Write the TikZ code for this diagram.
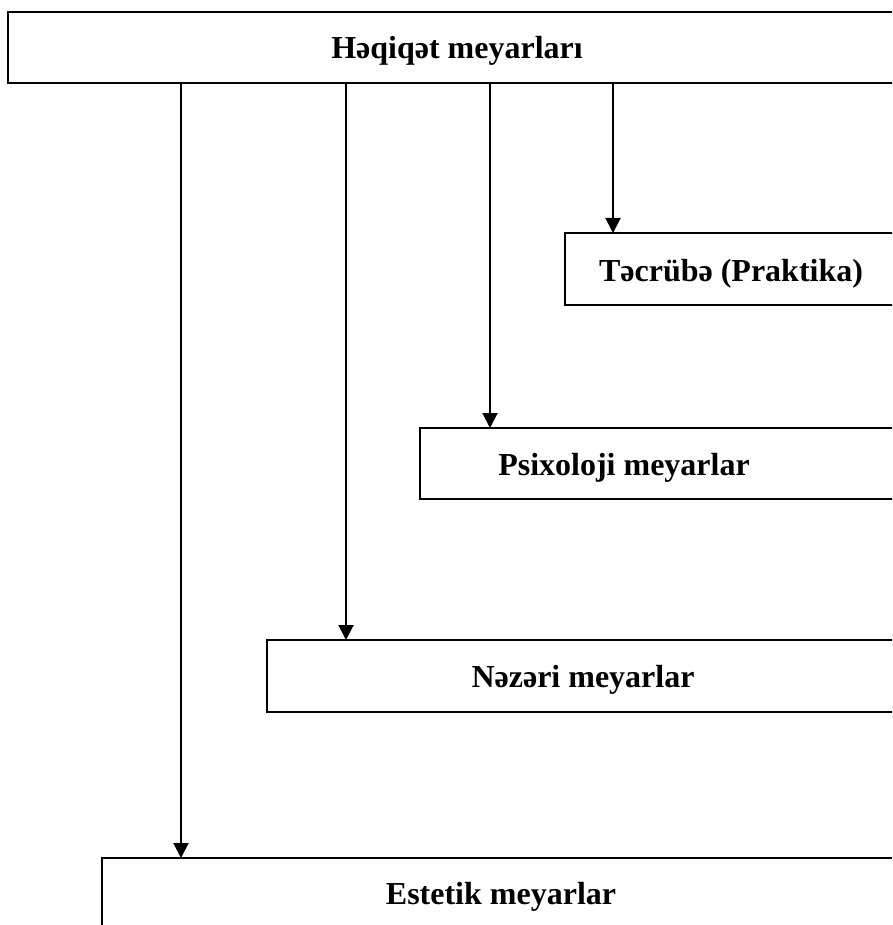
\documentclass[tikz,border=0pt]{standalone}
\usepackage{fontspec}
\setmainfont{Liberation Serif}
\usetikzlibrary{arrows.meta}
\begin{document}
\begin{tikzpicture}[x=1pt,y=-1pt,
  box/.style={draw, line width=2pt, inner sep=0pt, outer sep=0pt, anchor=north west},
  lbl/.style={font=\fontsize{32pt}{38pt}\selectfont\bfseries, inner sep=0pt, anchor=base},
  arr/.style={line width=2pt, -{Triangle[width=15pt,length=15pt]}}]
\useasboundingbox (0,0) rectangle (892,925);
\clip (0,0) rectangle (892,925);
\fill[white] (0,0) rectangle (892,925);
% boxes
\node[box, minimum width=942pt, minimum height=71pt] (top) at (8,12) {};
\node[box, minimum width=385pt, minimum height=72pt] (tec) at (565,233) {};
\node[box, minimum width=530pt, minimum height=71pt] (psi) at (420,428) {};
\node[box, minimum width=683pt, minimum height=72pt] (nez) at (267,640) {};
\node[box, minimum width=848pt, minimum height=100pt] (est) at (102,858) {};
% labels
\node[lbl] (toplbl) at (457,59) {Həqiqət meyarları};
\node[lbl] (teclbl) at (731,281) {Təcrübə (Praktika)};
\node[lbl] (psilbl) at (624,475) {Psixoloji meyarlar};
\node[lbl] (nezlbl) at (583,687) {Nəzəri meyarlar};
\node[lbl] (estlbl) at (501,904) {Estetik meyarlar};
% connectors
\coordinate (a1) at (181,83);
\coordinate (a2) at (346,83);
\coordinate (a3) at (490,83);
\coordinate (a4) at (613,83);
\draw[arr] (a1) -- (a1 |- est.north);
\draw[arr] (a2) -- (a2 |- nez.north);
\draw[arr] (a3) -- (a3 |- psi.north);
\draw[arr] (a4) -- (a4 |- tec.north);
\end{tikzpicture}
\end{document}
